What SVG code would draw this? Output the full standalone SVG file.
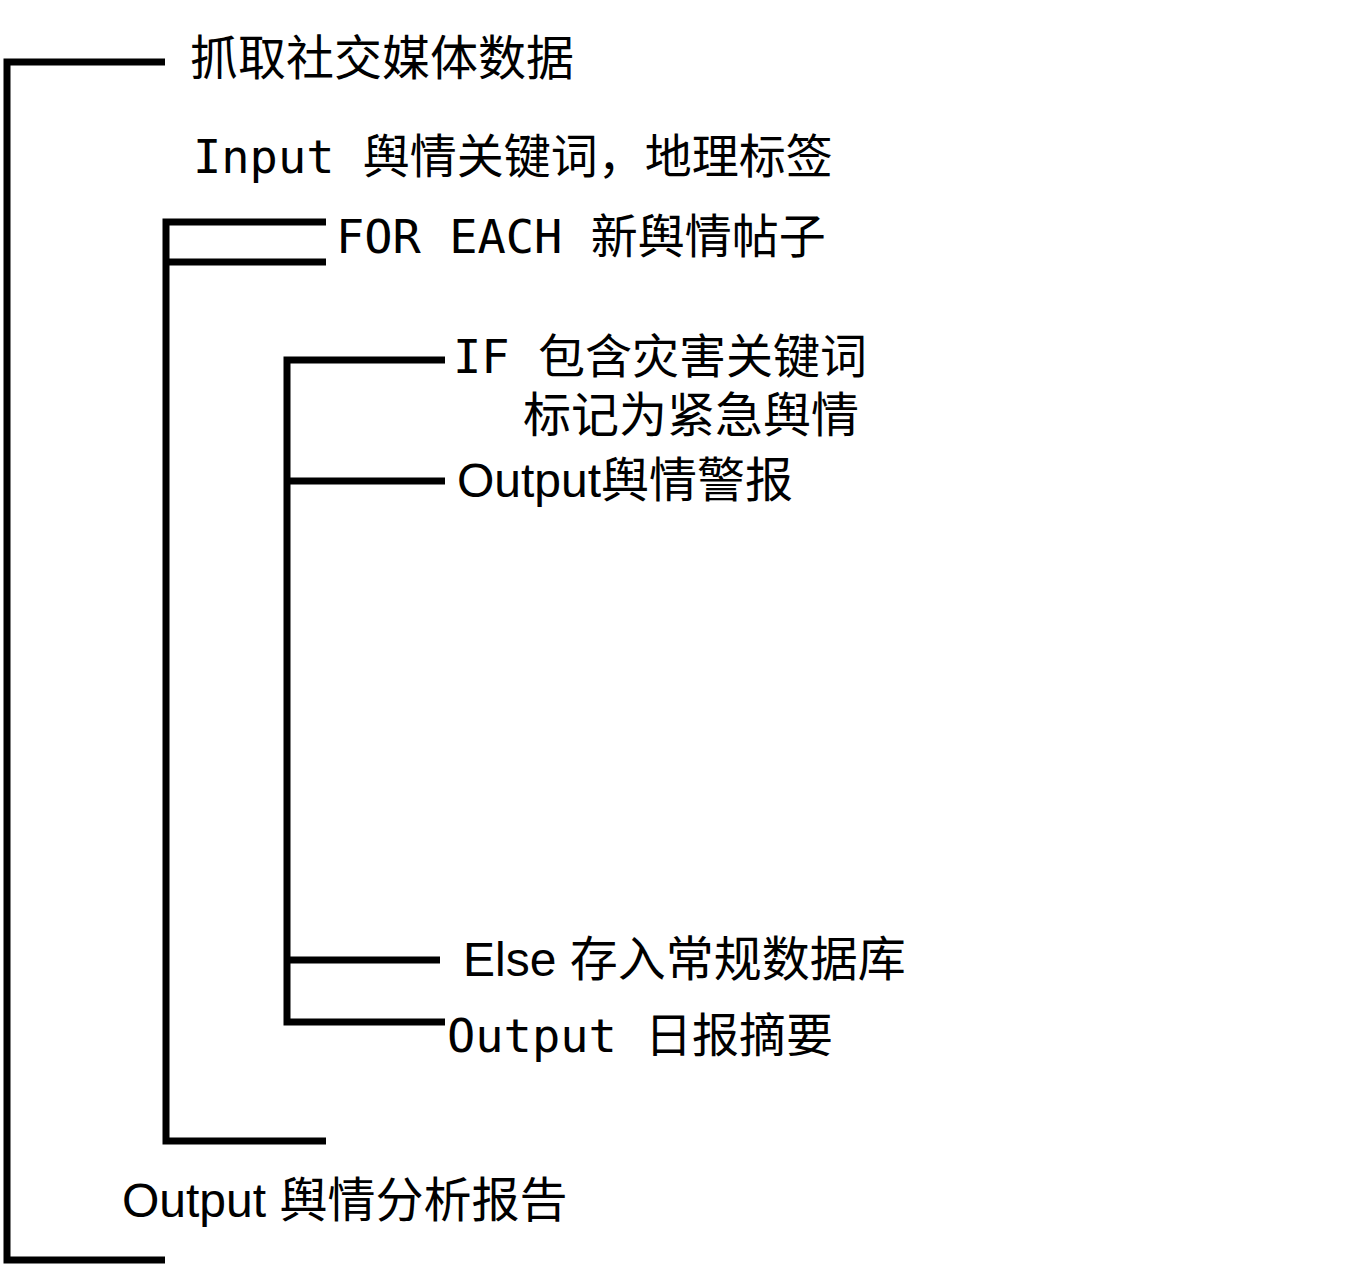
<svg xmlns="http://www.w3.org/2000/svg" width="1364" height="1264" viewBox="0 0 1364 1264">
<style>
.l{stroke:#000;stroke-width:7;fill:none}
.s{font-family:"Liberation Sans","Noto Sans CJK SC",sans-serif;font-size:48px}
.m{font-family:"DejaVu Sans Mono","Noto Sans CJK SC",monospace;font-size:47px}
</style>
<rect width="1364" height="1264" fill="#fff"/>
<g id="connectors">
<path class="l" d="M165 62H7V1260H165"/>
<path class="l" d="M326 222H166V1141H326M166 262H326"/>
<path class="l" d="M445 360H287V1022H445M287 481H445M287 960H440"/>
</g>
<g id="n1"><text class="s" x="190" y="75">抓取社交媒体数据</text></g>
<g id="n2"><text class="m" x="193" y="173">Input 舆情关键词，地理标签</text></g>
<g id="n3"><text class="m" x="336" y="253">FOR EACH 新舆情帖子</text></g>
<g id="n4"><text class="m" x="453" y="373">IF 包含灾害关键词</text><text class="s" x="523" y="432">标记为紧急舆情</text></g>
<g id="n5"><text class="s" x="457" y="497">Output舆情警报</text></g>
<g id="n6"><text class="s" x="463" y="976">Else 存入常规数据库</text></g>
<g id="n7"><text class="m" x="447" y="1052">Output 日报摘要</text></g>
<g id="n8"><text class="s" x="122" y="1217">Output 舆情分析报告</text></g>
</svg>
